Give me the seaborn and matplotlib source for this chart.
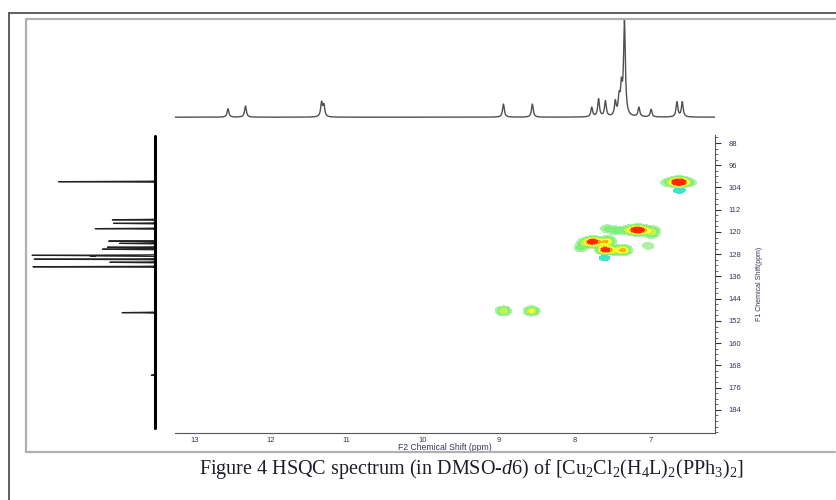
import numpy as np
import pandas as pd
import matplotlib
matplotlib.use("Agg")
import matplotlib.pyplot as plt
import seaborn as sns
from matplotlib.lines import Line2D
from matplotlib.ticker import MultipleLocator, FixedLocator

# ---------------- data ----------------
# 1H projection (F2 axis) peak list: shift (ppm), relative height
h_shift = [12.56, 12.33, 11.33, 11.30, 8.94, 8.56, 7.78, 7.69, 7.60, 7.47,
           7.42, 7.39, 7.35, 7.16, 7.00, 6.66, 6.59]
h_height = [0.09, 0.12, 0.15, 0.12, 0.14, 0.14, 0.10, 0.19, 0.165, 0.15,
            0.18, 0.28, 1.00, 0.10, 0.08, 0.16, 0.16]

# 13C projection (F1 axis) peak list: shift (ppm), relative height
c_shift = [101.9, 115.6, 116.9, 118.8, 123.3, 124.1, 125.5, 126.2, 128.4,
           128.6, 129.8, 130.9, 132.5, 149.0, 171.5]
c_height = [0.79, 0.35, 0.34, 0.49, 0.38, 0.29, 0.39, 0.43, 1.00,
            0.51, 0.99, 0.37, 1.00, 0.27, 0.03]

# HSQC cross peaks: F2 (1H), F1 (13C), intensity (negative = opposite phase)
xp_f2 = [6.67, 6.60, 6.80, 6.48, 6.63,
         7.19, 7.10, 7.30, 7.45, 7.58, 6.97, 6.99,
         7.77, 7.88, 7.93, 7.57, 7.66,
         7.61, 7.49, 7.36, 7.04, 7.61,
         8.94, 8.57]
xp_f1 = [102.1, 102.1, 102.2, 102.2, 104.6,
         119.3, 119.3, 119.3, 119.5, 118.8, 119.4, 120.9,
         123.5, 123.8, 125.8, 123.3, 123.6,
         126.5, 126.6, 126.5, 125.0, 128.9,
         148.4, 148.4]
xp_int = [0.9, 0.9, 0.2, 0.2, -0.3,
          1.0, 0.5, 0.35, 0.3, 0.25, 0.3, 0.25,
          1.0, 0.3, 0.25, 0.55, 0.3,
          1.0, 0.4, 0.7, 0.2, -0.25,
          0.5, 0.55]

f2_ticks = [13, 12, 11, 10, 9, 8, 7]
f1_ticks = [88, 96, 104, 112, 120, 128, 136, 144, 152, 160, 168, 176, 184]

caption = (r"Figure 4 HSQC spectrum (in DMSO-$\mathit{d6}$) of "
           r"[Cu$_2$Cl$_2$(H$_4$L)$_2$(PPh$_3$)$_2$]")

# ---------------- style ----------------
sns.set_style("white")
plt.rcParams["font.family"] = ["Liberation Sans", "DejaVu Sans"]
plt.rcParams["mathtext.fontset"] = "custom"
plt.rcParams["mathtext.rm"] = "Liberation Serif"
plt.rcParams["mathtext.it"] = "Liberation Serif:italic"

W, H = 837, 500
fig = plt.figure(figsize=(W / 100, H / 100), dpi=100)
fig.patch.set_facecolor("white")


def fx(px):
    return px / W


def fy(py):
    return 1 - py / H


F2_LIM = (13.256, 6.16)
F1_LIM = (192.3, 85.12)

# main 2D axes
ax = fig.add_axes([fx(175), fy(433), fx(715) - fx(175), fy(135) - fy(433)])
# top projection
axt = fig.add_axes([fx(175), fy(120), fx(715) - fx(175), fy(19) - fy(120)])
# left projection
axl = fig.add_axes([fx(25), fy(433), fx(160) - fx(25), fy(135) - fy(433)])

# ---------------- 1H projection ----------------
x = np.linspace(F2_LIM[0], F2_LIM[1], 4000)
hw = 0.014
yh = np.zeros_like(x)
for s, h in zip(h_shift, h_height):
    yh += h / (1 + ((x - s) / hw) ** 2)
top_df = pd.DataFrame({"ppm": x, "I": yh})
sns.lineplot(data=top_df, x="ppm", y="I", ax=axt, color="#505050",
             linewidth=1.0, sort=False, estimator=None, errorbar=None)
axt.set_xlim(*F2_LIM)
axt.set_ylim(-0.03, 1.05)
axt.axis("off")

# ---------------- 13C projection ----------------
c = np.linspace(86.0, 191.0, 12000)
sg = 0.07
ic = np.zeros_like(c)
for s, h in zip(c_shift, c_height):
    ic += h * np.exp(-0.5 * ((c - s) / sg) ** 2)
left_df = pd.DataFrame({"ppm": c, "I": ic})
sns.lineplot(data=left_df, x="I", y="ppm", ax=axl, color="#222222",
             linewidth=0.9, sort=False, estimator=None, errorbar=None,
             orient="y")
axl.axvline(0, ymin=(192.3 - 190.5) / (192.3 - 85.12),
            ymax=(192.3 - 85.5) / (192.3 - 85.12), color="black", lw=2.2)
axl.set_ylim(*F1_LIM)
axl.set_xlim(1.065, -0.041)
axl.axis("off")

# ---------------- HSQC map ----------------
gx = np.linspace(F2_LIM[1], F2_LIM[0], 700)
gy = np.linspace(F1_LIM[1], F1_LIM[0], 700)
GX, GY = np.meshgrid(gx, gy)
Z = np.zeros_like(GX)
sx, sy = 0.06, 1.0
for a, b, v in zip(xp_f2, xp_f1, xp_int):
    Z += v * np.exp(-0.5 * (((GX - a) / sx) ** 2 + ((GY - b) / sy) ** 2))

pos_levels = [0.1, 0.2, 0.35, 0.5, 0.65, 0.8, 10]
pos_colors = ["#aef0a4", "#7cf07a", "#c6f04a", "#ffff28", "#ffae10", "#ff2a00"]
ax.contourf(GX, GY, Z, levels=pos_levels, colors=pos_colors)
ax.contourf(GX, GY, Z, levels=[-10, -0.1], colors=["#40e4c8"])

ax.set_xlim(*F2_LIM)
ax.set_ylim(*F1_LIM)
ax.set_facecolor("white")
for side in ("top", "left"):
    ax.spines[side].set_visible(False)
for side in ("bottom", "right"):
    ax.spines[side].set_visible(True)
    ax.spines[side].set_color("#555555")
    ax.spines[side].set_linewidth(0.8)

lab_col = "#3a3458"
ax.xaxis.set_major_locator(FixedLocator(f2_ticks))
ax.xaxis.set_minor_locator(MultipleLocator(0.1))
ax.set_xticklabels([str(t) for t in f2_ticks])
ax.tick_params(axis="x", which="major", direction="inout", length=4,
               width=1.2, color="#333333", labelsize=5.5, pad=1.0,
               labelcolor=lab_col)
ax.tick_params(axis="x", which="minor", direction="in", length=2,
               width=0.6, color="#555555")

ax.yaxis.tick_right()
ax.yaxis.set_label_position("right")
ax.yaxis.set_major_locator(FixedLocator(f1_ticks))
ax.yaxis.set_minor_locator(MultipleLocator(2))
ax.set_yticklabels([str(t) for t in f1_ticks])
ax.tick_params(axis="y", which="major", direction="out", length=4,
               width=0.8, color="#333333", labelsize=5.5, pad=6,
               labelcolor=lab_col, right=True, left=False)
ax.tick_params(axis="y", which="minor", direction="out", length=2.5,
               width=0.6, color="#555555", right=True, left=False)

ax.set_xlabel("F2 Chemical Shift (ppm)", fontsize=6.2, color=lab_col,
              labelpad=-1.0)
ax.set_ylabel("F1 Chemical Shift(ppm)", fontsize=5, color=lab_col,
              labelpad=10, rotation=90)

# ---------------- frames & caption ----------------
fig.add_artist(Line2D([fx(9), 1.0], [fy(12.5), fy(12.5)], color="#444444",
                      lw=1.2, transform=fig.transFigure))
fig.add_artist(Line2D([fx(9), fx(9)], [fy(12.5), 0], color="#444444",
                      lw=1.2, transform=fig.transFigure))
gray = "#b0b0b0"
fig.add_artist(Line2D([fx(26), fx(835)], [fy(19), fy(19)], color=gray,
                      lw=1.6, transform=fig.transFigure))
fig.add_artist(Line2D([fx(26), fx(26)], [fy(19), fy(452)], color=gray,
                      lw=1.6, transform=fig.transFigure))
fig.add_artist(Line2D([fx(26), fx(835)], [fy(452), fy(452)], color=gray,
                      lw=1.6, transform=fig.transFigure))

fig.text(fx(471), fy(469), caption, ha="center", va="center",
         fontsize=14.5, family="Liberation Serif", color="#1e1e2a")

fig.savefig("out.png", dpi=100, facecolor="white")
